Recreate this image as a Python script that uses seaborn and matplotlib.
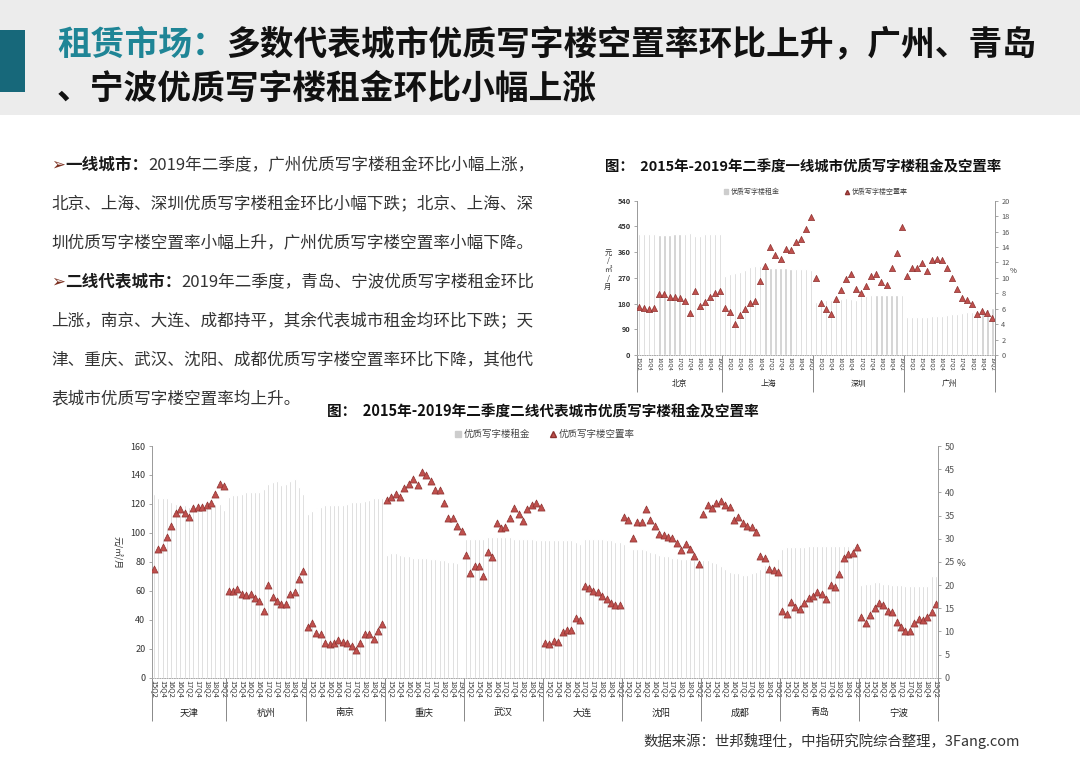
import matplotlib
matplotlib.use('Agg')
import matplotlib.pyplot as plt
import seaborn as sns
import pandas as pd
from matplotlib.patches import Patch, Rectangle
from matplotlib.lines import Line2D

quarters = ['15Q1', '15Q2', '15Q3', '15Q4', '16Q1', '16Q2', '16Q3', '16Q4', '17Q1',
            '17Q2', '17Q3', '17Q4', '18Q1', '18Q2', '18Q3', '18Q4', '19Q1', '19Q2']

# 一线城市 (租金 元/㎡/月, 空置率 %)
tier1_cities = ['北京', '上海', '深圳', '广州']
beijing_rent = [422, 422, 422, 422, 421, 421, 421, 422, 423, 424, 427, 417, 417, 424, 424, 424, 422]
beijing_vac = [6.2, 6.15, 6.0, 6.05, 7.85, 7.95, 7.5, 7.5, 7.35, 7.0, 5.5, 8.35, 6.35, 6.9, 7.5, 8.05, 8.35]
shanghai_rent = [278, 282, 286, 290, 298, 308, 312, 311, 306, 304, 304, 303, 303, 302, 302, 301, 300, 298]
shanghai_vac = [6.05, 5.6, 4.0, 5.2, 5.95, 6.7, 7.0, 9.6, 11.6, 13.95, 12.95, 12.5, 13.8, 13.55, 14.7, 15.1, 16.3, 17.9]
shenzhen_rent = [184, 190, 192, 193, 194, 196, 198, 195, 193, 205, 208, 209, 210, 211, 211, 211, 210, 209]
shenzhen_vac = [9.95, 6.7, 5.95, 5.25, 7.25, 8.45, 9.85, 10.55, 8.55, 8.05, 9.0, 10.2, 10.5, 9.4, 9.05, 11.3, 13.2, 16.55]
guangzhou_rent = [134, 134, 134, 134, 134, 135, 136, 138, 141, 143, 144, 147, 149, 152, 157, 160, 162, 165]
guangzhou_vac = [10.2, 11.3, 11.3, 11.9, 10.9, 12.35, 12.5, 12.35, 11.3, 10.0, 8.55, 7.45, 7.15, 6.55, 5.35, 5.7, 5.45, 4.85]

# 二线代表城市
tier2_cities = ['天津', '杭州', '南京', '重庆', '武汉', '大连', '沈阳', '成都', '青岛', '宁波']
tianjin_rent = [127, 124, 124, 124, 121, 120, 119, 119, 118, 117, 117, 117, 118, 119, 120, 120, 116]
tianjin_vac = [23.4, 27.8, 28.1, 30.3, 32.8, 35.6, 36.3, 35.6, 34.7, 36.6, 36.9, 36.9, 37.2, 37.8, 39.7, 41.9, 41.3]
hangzhou_rent = [125, 126, 126, 127, 128, 128, 128, 128, 130, 134, 135, 136, 133, 134, 136, 137, 132, 127]
hangzhou_vac = [18.75, 18.75, 19.1, 18.1, 17.8, 18.1, 17.2, 16.6, 14.4, 20.0, 17.5, 16.6, 15.9, 15.9, 18.1, 18.4, 21.25, 23.1]
nanjing_rent = [113, 115, 117, 118, 119, 119, 119, 119, 119, 120, 121, 121, 121, 122, 123, 124, 124, 124]
nanjing_vac = [10.9, 11.9, 9.7, 9.4, 7.5, 7.2, 7.5, 8.1, 7.8, 7.5, 6.9, 5.9, 7.5, 9.4, 9.4, 8.4, 10.0, 11.6]
chongqing_rent = [85, 86, 86, 85, 84, 84, 83, 83, 83, 83, 82, 82, 81, 81, 80, 80, 79, 79]
chongqing_vac = [38.4, 39.1, 39.7, 39.1, 40.9, 41.9, 42.8, 41.6, 44.4, 43.75, 42.5, 40.6, 40.6, 37.8, 34.4, 34.4, 32.8, 31.6]
wuhan_rent = [96, 96, 96, 96, 96, 97, 97, 97, 97, 97, 97, 96, 96, 96, 96, 96, 95, 95]
wuhan_vac = [26.5, 22.5, 24.2, 24.0, 22.0, 27.2, 26.0, 33.4, 32.2, 32.5, 34.4, 36.6, 35.3, 33.8, 36.3, 37.2, 37.8, 36.9]
dalian_rent = [95, 95, 95, 95, 95, 95, 95, 94, 92, 96, 96, 96, 96, 96, 95, 95, 94, 94]
dalian_vac = [7.5, 7.3, 8.0, 7.6, 9.8, 10.3, 10.3, 12.9, 12.4, 19.7, 19.3, 18.8, 18.5, 17.7, 17.0, 16.2, 15.6, 15.6]
shenyang_rent = [92, 90, 89, 89, 89, 88, 87, 86, 85, 84, 84, 83, 83, 82, 82, 81, 81, 80]
shenyang_vac = [34.7, 34.0, 30.2, 33.5, 33.5, 36.4, 34.1, 32.8, 31.0, 30.8, 30.4, 30.1, 29.1, 27.5, 28.9, 27.8, 26.3, 24.6]
chengdu_rent = [81, 81, 80, 79, 77, 75, 73, 72, 72, 71, 71, 72, 73, 75, 78, 80, 81, 82]
chengdu_vac = [35.3, 37.3, 36.6, 37.7, 38.2, 37.3, 36.9, 34.0, 34.6, 33.3, 32.7, 32.5, 31.5, 26.2, 25.8, 23.4, 23.3, 22.9]
qingdao_rent = [89, 90, 90, 90, 90, 90, 91, 91, 91, 91, 91, 91, 91, 91, 91, 91, 90, 90]
qingdao_vac = [14.4, 13.7, 16.4, 15.2, 14.8, 16.1, 17.1, 17.7, 18.5, 18.0, 17.0, 20.0, 19.6, 22.3, 25.8, 26.8, 26.9, 28.2]
ningbo_rent = [64, 65, 65, 66, 66, 65, 65, 64, 64, 64, 63, 63, 63, 63, 63, 63, 70, 70]
ningbo_vac = [13.1, 11.9, 13.5, 15.1, 16.2, 15.7, 14.5, 14.1, 12.0, 11.0, 10.0, 10.0, 11.9, 12.6, 12.5, 13.1, 14.1, 15.9]

W, H = 1080, 764
FONT = ['Noto Sans CJK SC', 'DejaVu Sans']
BAR = '#cdcdcd'
RED = '#c0504d'
RED_EDGE = '#8c3230'


def build(cities, rents, vacs):
    rows = []
    for city, r, v in zip(cities, rents, vacs):
        for q, a, b in zip(quarters[-len(r):], r, v):
            rows.append(dict(city=city, quarter=q, rent=a, vac=b))
    df = pd.DataFrame(rows)
    df['pos'] = range(len(df))
    df['slot'] = df['city'] + df['quarter']
    return df


def fx(px):
    return px / W


def fy(py):
    return 1 - py / H


def panel(rect, df, lticks, rticks, fs, msize, sep_low, city_y, legend_fs, colsp):
    ax = fig.add_axes(rect)
    sns.barplot(data=df, x='slot', y='rent', order=list(df['slot']), color=BAR,
                saturation=1, width=0.45, errorbar=None, ax=ax)
    ax2 = ax.twinx()
    sns.scatterplot(data=df, x='pos', y='vac', marker='^', s=msize, color=RED,
                    edgecolor=RED_EDGE, linewidth=0.5, legend=False, ax=ax2)
    n = len(df)
    ax.set_xlim(-0.5, n - 0.5)
    ax.set_ylim(lticks[0], lticks[-1])
    ax.set_yticks(lticks)
    ax2.set_ylim(rticks[0], rticks[-1])
    ax2.set_yticks(rticks)
    ax.set_xlabel('')
    ax.set_ylabel('')
    ax2.set_ylabel('')

    mask = df['quarter'].str.endswith(('Q2', 'Q4'))
    ax.set_xticks(df['pos'][mask])
    ax.set_xticklabels(df['quarter'][mask], rotation=270, fontsize=fs - 1.2,
                       color='#333333', family=FONT)
    ax.tick_params(axis='x', length=0, pad=1.5)
    ax.tick_params(axis='y', length=2.5, width=0.6, color='#999999',
                   labelsize=fs, labelcolor='#333333', pad=2)
    ax2.tick_params(axis='y', length=2.5, width=0.6, color='#999999',
                    labelsize=fs, labelcolor='#555555', pad=2)

    for s in ['top', 'right']:
        ax.spines[s].set_visible(False)
    for s in ['top', 'left', 'bottom']:
        ax2.spines[s].set_visible(False)
    ax.spines['left'].set_color('#999999')
    ax.spines['left'].set_linewidth(0.7)
    ax2.spines['right'].set_color('#999999')
    ax2.spines['right'].set_linewidth(0.7)
    ax.spines['bottom'].set_color('#aaaaaa')
    ax.spines['bottom'].set_linewidth(0.7)
    ax.spines['bottom'].set_linestyle((0, (1, 1.5)))

    starts = df.groupby('city', sort=False)['pos'].min().values - 0.5
    bounds = list(starts) + [n - 0.5]
    ax.vlines(bounds, sep_low, 0, transform=ax.get_xaxis_transform(),
              clip_on=False, color='#888888', lw=0.7)
    centers = df.groupby('city', sort=False)['pos'].mean()
    for city, c in centers.items():
        ax.text(c, city_y, city, transform=ax.get_xaxis_transform(),
                ha='center', va='center', fontsize=fs + 0.3, color='#222222',
                family=FONT)

    handles = [Patch(color=BAR),
               Line2D([], [], marker='^', ls='', color=RED, markeredgecolor=RED_EDGE,
                      markersize=legend_fs * 0.6)]
    leg = ax2.legend(handles, ['优质写字楼租金', '优质写字楼空置率'], loc='lower center',
                     bbox_to_anchor=(0.5, 1.0), ncol=2, frameon=False,
                     prop={'family': FONT, 'size': legend_fs}, columnspacing=colsp,
                     handlelength=0.6, handleheight=0.6, handletextpad=0.3,
                     borderaxespad=0.3)
    for t in leg.get_texts():
        t.set_color('#444444')
    return ax, ax2


sns.set_theme(style='white')
plt.rcParams['font.family'] = FONT
plt.rcParams['axes.unicode_minus'] = False

fig = plt.figure(figsize=(W / 100, H / 100), dpi=100)
renderer = fig.canvas.get_renderer()

# header band
fig.add_artist(Rectangle((0, fy(115)), 1, 115 / H, transform=fig.transFigure,
                         color='#ececec', zorder=0, lw=0))
fig.add_artist(Rectangle((0, fy(92)), fx(25), 62 / H, transform=fig.transFigure,
                         color='#17687a', zorder=1, lw=0))


def rich_line(x_px, y_px, pieces, size):
    x = x_px
    for txt, weight, color in pieces:
        t = fig.text(fx(x), fy(y_px), txt, fontsize=size, fontweight=weight,
                     color=color, ha='left', va='center', family=FONT)
        x += t.get_window_extent(renderer).width


rich_line(57, 45, [('租赁市场：', 'heavy', '#1f8596'),
                   ('多数代表城市优质写字楼空置率环比上升，广州、青岛', 'heavy', '#111111')], 24.3)
rich_line(57, 88, [('、宁波优质写字楼租金环比小幅上涨', 'heavy', '#111111')], 24.3)

body = [
    [('➢', 'normal', '#7a2e1e'), ('一线城市：', 'bold', '#1a1a1a'),
     ('2019年二季度，广州优质写字楼租金环比小幅上涨，', 'normal', '#333333')],
    [('北京、上海、深圳优质写字楼租金环比小幅下跌；北京、上海、深', 'normal', '#333333')],
    [('圳优质写字楼空置率小幅上升，广州优质写字楼空置率小幅下降。', 'normal', '#333333')],
    [('➢', 'normal', '#7a2e1e'), ('二线代表城市：', 'bold', '#1a1a1a'),
     ('2019年二季度，青岛、宁波优质写字楼租金环比', 'normal', '#333333')],
    [('上涨，南京、大连、成都持平，其余代表城市租金均环比下跌；天', 'normal', '#333333')],
    [('津、重庆、武汉、沈阳、成都优质写字楼空置率环比下降，其他代', 'normal', '#333333')],
    [('表城市优质写字楼空置率均上升。', 'normal', '#333333')],
]
for i, pieces in enumerate(body):
    rich_line(51, 165 + i * 39, pieces, 11.95)

# top chart
df1 = build(tier1_cities,
            [beijing_rent, shanghai_rent, shenzhen_rent, guangzhou_rent],
            [beijing_vac, shanghai_vac, shenzhen_vac, guangzhou_vac])
fig.text(fx(605), fy(167), '图：  2015年-2019年二季度一线城市优质写字楼租金及空置率',
         fontsize=10.4, fontweight='bold', color='#111111', ha='left', va='center')
ax_a, ax_b = panel([fx(636.7), fy(355), fx(995) - fx(636.7), (355 - 200.7) / H], df1,
                   list(range(0, 541, 90)), list(range(0, 21, 2)), 5.3, 20,
                   -0.24, -0.19, 5.0, 9.5)
for lab in ax_a.get_yticklabels():
    lab.set_fontweight('bold')
fig.text(fx(608), fy(270), '元\n/\n㎡\n/\n月', fontsize=5.3, color='#333333',
         ha='center', va='center', linespacing=1.1)
fig.text(fx(1010), fy(271), '%', fontsize=5.5, color='#333333', ha='left', va='center')

# bottom chart
df2 = build(tier2_cities,
            [tianjin_rent, hangzhou_rent, nanjing_rent, chongqing_rent, wuhan_rent,
             dalian_rent, shenyang_rent, chengdu_rent, qingdao_rent, ningbo_rent],
            [tianjin_vac, hangzhou_vac, nanjing_vac, chongqing_vac, wuhan_vac,
             dalian_vac, shenyang_vac, chengdu_vac, qingdao_vac, ningbo_vac])
fig.text(fx(327), fy(411), '图：  2015年-2019年二季度二线代表城市优质写字楼租金及空置率',
         fontsize=10.5, fontweight='bold', color='#111111', ha='left', va='center')
panel([fx(151.7), fy(677.7), fx(938.3) - fx(151.7), (677.7 - 446) / H], df2,
      list(range(0, 161, 20)), list(range(0, 51, 5)), 6.5, 26,
      -0.185, -0.152, 6.8, 2.2)
fig.text(fx(117), fy(553), '元/㎡/月', fontsize=6.3, color='#333333', rotation=270,
         ha='center', va='center')
fig.text(fx(957), fy(563), '%', fontsize=6.8, color='#444444', ha='left', va='center')

fig.text(fx(643), fy(741), '数据来源：世邦魏理仕，中指研究院综合整理，3Fang.com',
         fontsize=10.4, color='#333333', ha='left', va='center')

fig.savefig('out.png', dpi=100)
